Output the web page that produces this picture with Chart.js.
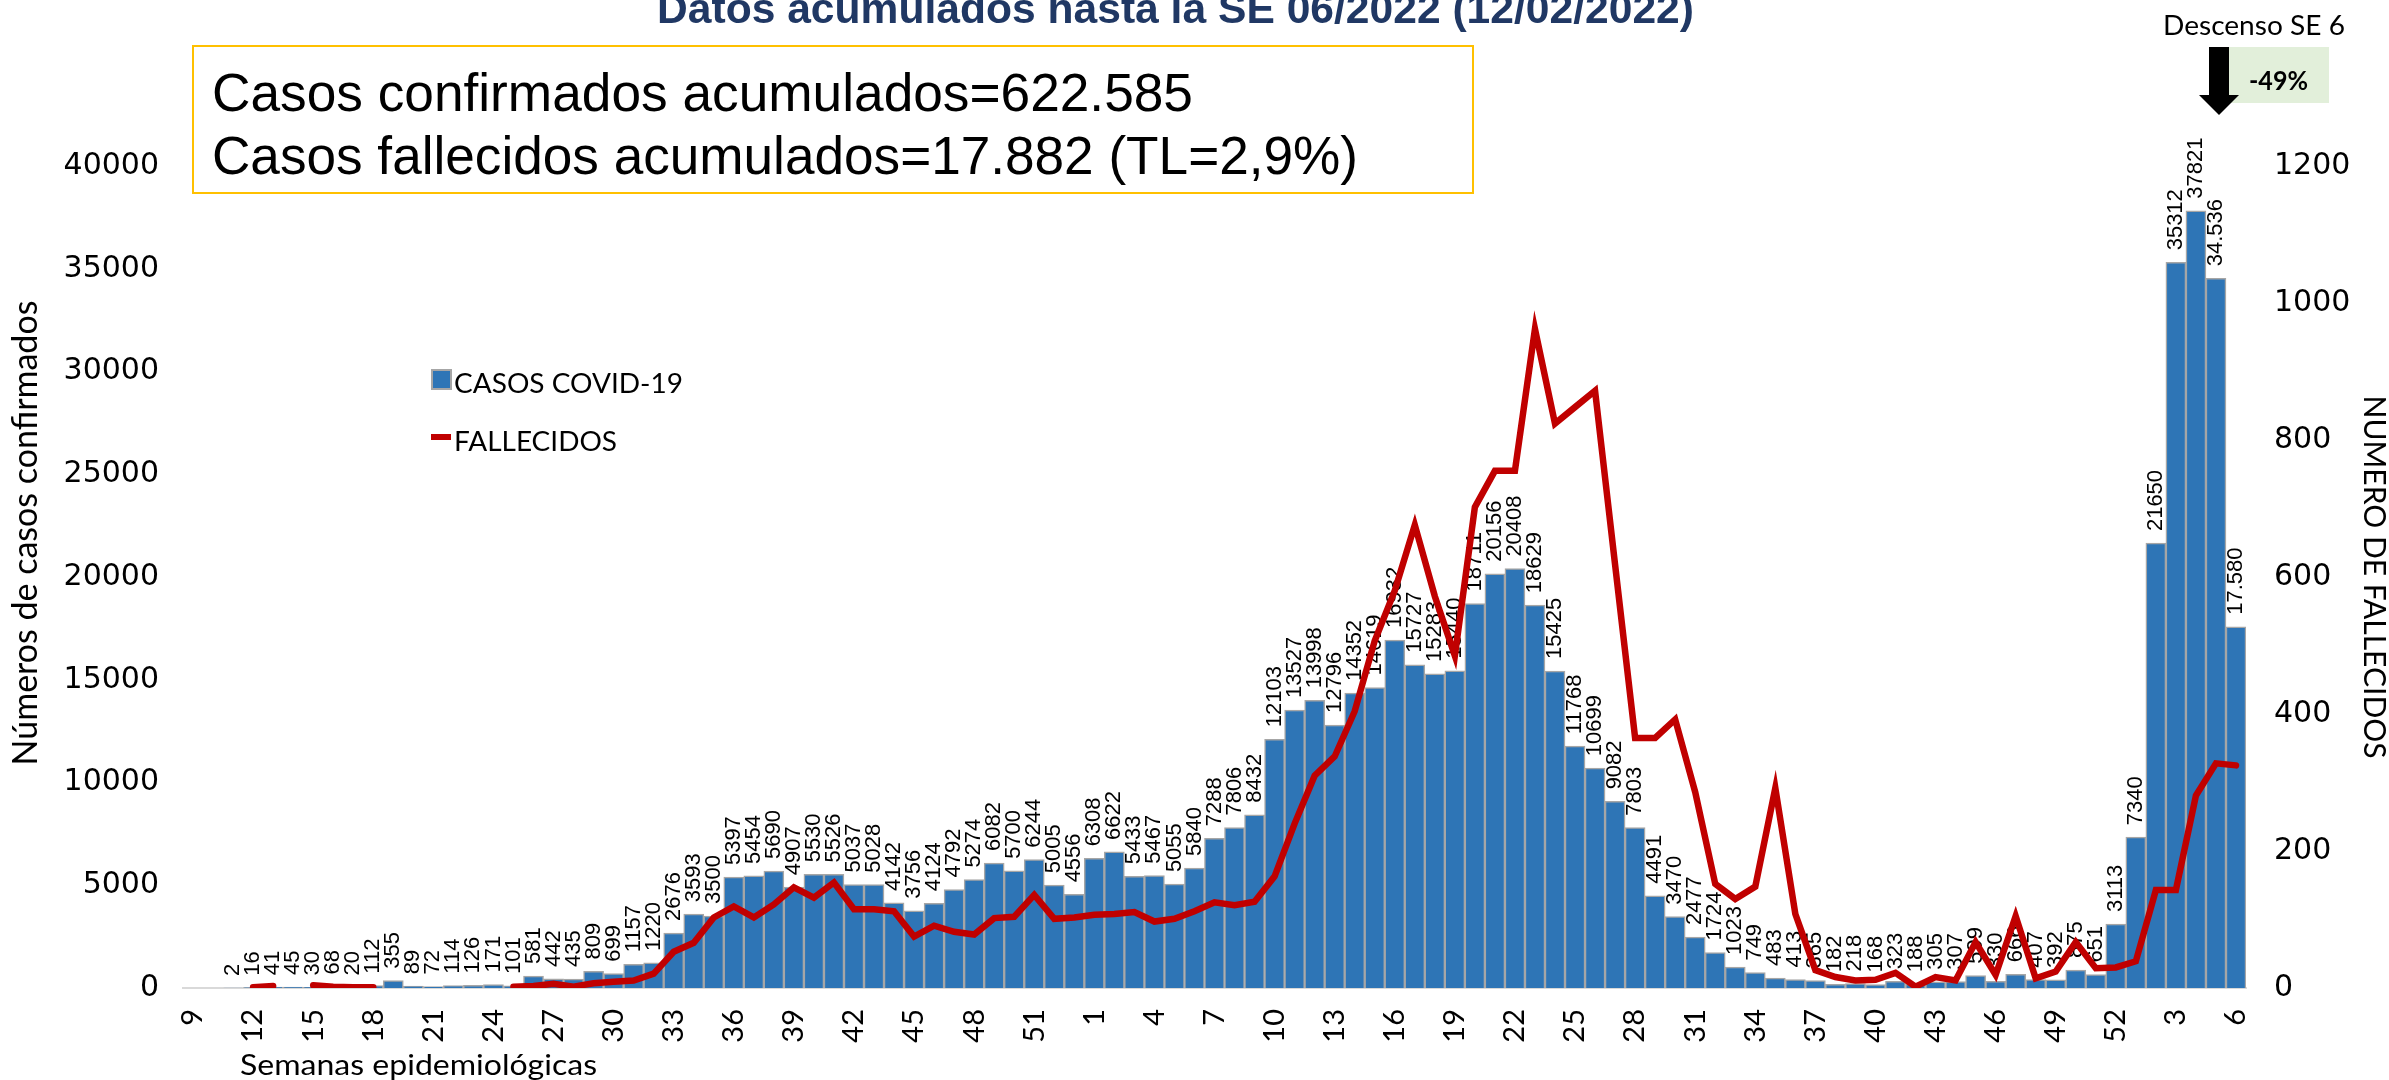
<!DOCTYPE html>
<html>
<head>
<meta charset="utf-8">
<script src="https://cdn.jsdelivr.net/npm/chart.js@4.4.0/dist/chart.umd.min.js"></script>
<style>
  body { margin: 0; background: #fff; }
  #wrap { position: relative; width: 2389px; height: 1080px; overflow: hidden; }
  #chart { position: absolute; left: 0; top: 0; }
  .txt { position: absolute; white-space: nowrap; line-height: 1; transform-origin: 0 0; color: #000; }
  #title { left: 657px; top: -15px; font: bold 42px "Liberation Sans", Arial, sans-serif; color: #203864; }
  #box { position: absolute; left: 192px; top: 45px; width: 1278px; height: 145px; border: 2px solid #FFC000; }
  .big { font: 53px "Liberation Sans", Arial, sans-serif; left: 212px; }
  .leg { font: 27px Lato, sans-serif; left: 454px; }
  #legBar { position: absolute; left: 431px; top: 369px; width: 17px; height: 17px; background: #2E75B6; border: 2px solid #A6A6A6; }
  #legLine { position: absolute; left: 431px; top: 434px; width: 20px; height: 6px; background: #C00000; }
  #green { position: absolute; left: 2229px; top: 47px; width: 100px; height: 56px; background: #E2EFDA; }
</style>
</head>
<body>
<div id="wrap">
  <canvas id="chart" width="2389" height="1080"></canvas>

  <div class="txt" id="title" data-w="1037">Datos acumulados hasta la SE 06/2022 (12/02/2022)</div>

  <div id="box"></div>
  <div class="txt big" style="top:62px" data-w="981">Casos confirmados acumulados=622.585</div>
  <div class="txt big" style="top:125px" data-w="1146">Casos fallecidos acumulados=17.882 (TL=2,9%)</div>

  <div id="legBar"></div>
  <div class="txt leg" style="top:366px" data-w="229">CASOS COVID-19</div>
  <div id="legLine"></div>
  <div class="txt leg" style="top:424px" data-w="163">FALLECIDOS</div>

  <div class="txt" style="left:2163px;top:8px;font:27px Lato,sans-serif" data-w="182">Descenso SE 6</div>
  <div id="green"></div>
  <svg style="position:absolute;left:2195px;top:45px" width="50" height="75">
    <polygon points="14,2 34,2 34,50 44,50 24,70 4,50 14,50" fill="#000"/>
  </svg>
  <div class="txt" style="left:2249px;top:63px;font:bold 27px Lato,sans-serif" data-w="59">-49%</div>

  <div class="txt" style="left:240px;top:1046px;font:29px Lato,sans-serif" data-w="357">Semanas epidemiológicas</div>
</div>

<script>
  // semanas epidemiologicas: 2020 (SE 9-53), 2021 (SE 1-52), 2022 (SE 1-6)
  const weeks = [
    '9','10','11','12','13','14','15','16','17','18','19','20','21','22','23','24','25','26','27','28',
    '29','30','31','32','33','34','35','36','37','38','39','40','41','42','43','44','45','46','47','48',
    '49','50','51','52','53',
    '1','2','3','4','5','6','7','8','9','10','11','12','13','14','15','16','17','18','19','20',
    '21','22','23','24','25','26','27','28','29','30','31','32','33','34','35','36','37','38','39','40',
    '41','42','43','44','45','46','47','48','49','50','51','52',
    '1','2','3','4','5','6'
  ];

  const cases2020 = [
    null, null, 2, 16, 41, 45, 30, 68, 20, 112, 355, 89, 72, 114, 126, 171, 101, 581, 442, 435,
    809, 699, 1157, 1220, 2676, 3593, 3500, 5397, 5454, 5690, 4907, 5530, 5526, 5037, 5028, 4142, 3756, 4124, 4792, 5274,
    6082, 5700, 6244, 5005, 4556
  ];
  const cases2021 = [
    6308, 6622, 5433, 5467, 5055, 5840, 7288, 7806, 8432, 12103, 13527, 13998, 12796, 14352, 14619, 16932, 15727, 15283, 15440, 18711,
    20156, 20408, 18629, 15425, 11768, 10699, 9082, 7803, 4491, 3470, 2477, 1724, 1023, 749, 483, 413, 365, 182, 218, 168,
    323, 188, 305, 307, 599, 330, 666, 407, 392, 875, 651, 3113
  ];
  const cases2022 = [7340, 21650, 35312, 37821, 34536, 17580];

  const deaths2020 = [
    null, null, null, 1, 3, null, 4, 2, 1, 1, null, null, null, null, null, null, 2, 3, 6, 2,
    7, 9, 11, 21, 53, 66, 103, 119, 103, 122, 147, 132, 154, 115, 115, 112, 75, 91, 82, 78,
    102, 104, 136, 101, 103
  ];
  const deaths2021 = [
    107, 108, 111, 97, 101, 112, 125, 121, 126, 163, 240, 310, 338, 404, 507, 580, 676, 572, 485, 702,
    755, 755, 962, 824, 848, 872, 618, 365, 365, 392, 286, 152, 130, 148, 292, 108, 26, 16, 11, 12,
    22, 2, 16, 11, 67, 19, 105, 14, 24, 67, 29, 30
  ];
  const deaths2022 = [39, 143, 143, 281, 328, 325];

  const cases = [...cases2020, ...cases2021, ...cases2022];
  const deaths = [...deaths2020, ...deaths2021, ...deaths2022];

  // the last two bars carry a thousands separator in the original
  const dottedLabels = 2;
  function labelFor(i) {
    const s = String(cases[i]);
    if (i >= cases.length - dottedLabels && s.length > 3) {
      return s.slice(0, s.length - 3) + '.' + s.slice(-3);
    }
    return s;
  }

  const barLabels = {
    id: 'barLabels',
    afterDatasetDraw(chart, args) {
      if (args.index !== 0) return;
      const ctx = chart.ctx;
      ctx.save();
      ctx.font = '22px "Liberation Sans", Arial, sans-serif';
      ctx.fillStyle = '#000';
      ctx.textAlign = 'left';
      ctx.textBaseline = 'middle';
      args.meta.data.forEach((bar, i) => {
        if (cases[i] == null) return;
        ctx.save();
        ctx.translate(bar.x, bar.y - 12);
        ctx.rotate(-Math.PI / 2);
        ctx.fillText(labelFor(i), 0, 0);
        ctx.restore();
      });
      ctx.restore();
    }
  };

  // left axis title sits a bit above the middle of the axis in the original
  const leftTitle = {
    id: 'leftTitle',
    afterDraw(chart) {
      const ctx = chart.ctx;
      ctx.save();
      ctx.translate(26, 533);
      ctx.rotate(-Math.PI / 2);
      ctx.font = '34px Lato, sans-serif';
      ctx.fillStyle = '#000';
      ctx.textAlign = 'center';
      ctx.textBaseline = 'middle';
      ctx.fillText('Números de casos confirmados', 0, 0);
      ctx.restore();
    }
  };

  new Chart(document.getElementById('chart'), {
    data: {
      labels: weeks,
      datasets: [
        {
          type: 'bar', label: 'CASOS COVID-19', data: cases, yAxisID: 'y', order: 2,
          backgroundColor: '#2E75B6', borderColor: '#A6A6A6', borderWidth: 1.5,
          categoryPercentage: 1, barPercentage: 1
        },
        {
          type: 'line', label: 'FALLECIDOS', data: deaths, yAxisID: 'y1', order: 1,
          borderColor: '#C00000', borderWidth: 6.5, pointRadius: 0, tension: 0,
          spanGaps: false, borderCapStyle: 'round'
        }
      ]
    },
    options: {
      responsive: false,
      animation: false,
      devicePixelRatio: 1,
      layout: { padding: { top: 166, left: 0, right: 0, bottom: 0 } },
      plugins: { legend: { display: false }, tooltip: { enabled: false } },
      scales: {
        x: {
          offset: true,
          grid: { display: false, drawTicks: false },
          border: { display: true, color: '#D9D9D9', width: 2 },
          ticks: {
            autoSkip: false, minRotation: 90, maxRotation: 90, padding: 21,
            color: '#000', font: { family: 'Lato', size: 29 },
            callback: (v, i) => (i % 3 === 0 ? weeks[i] : '')
          },
          afterFit(s) { s.height = 92; }
        },
        y: {
          position: 'left', min: 0, max: 40000,
          grid: { display: false, drawTicks: false },
          border: { display: false },
          ticks: {
            stepSize: 5000, padding: 24, color: '#000',
            font: { family: 'DejaVu Sans', size: 30 },
            callback: v => String(v)
          },
          afterFit(s) { s.width = 183; }
        },
        y1: {
          position: 'right', min: 0, max: 1200,
          grid: { display: false, drawTicks: false },
          border: { display: false },
          ticks: {
            stepSize: 200, padding: 28, color: '#000',
            font: { family: 'DejaVu Sans', size: 30 },
            callback: v => String(v)
          },
          title: {
            display: true, text: 'NUMERO DE FALLECIDOS', color: '#000',
            font: { family: 'Lato', size: 30, lineHeight: 1 }, padding: { top: 0, bottom: 0 }
          },
          afterFit(s) { s.width = 143; }
        }
      }
    },
    plugins: [barLabels, leftTitle]
  });

  // squeeze / stretch overlay texts to the widths measured on the original
  function fitText() {
    document.querySelectorAll('[data-w]').forEach(el => {
      const w = el.getBoundingClientRect().width;
      if (w > 0) el.style.transform = 'scaleX(' + (Number(el.dataset.w) / w).toFixed(4) + ')';
    });
  }
  fitText();
</script>
</body>
</html>
